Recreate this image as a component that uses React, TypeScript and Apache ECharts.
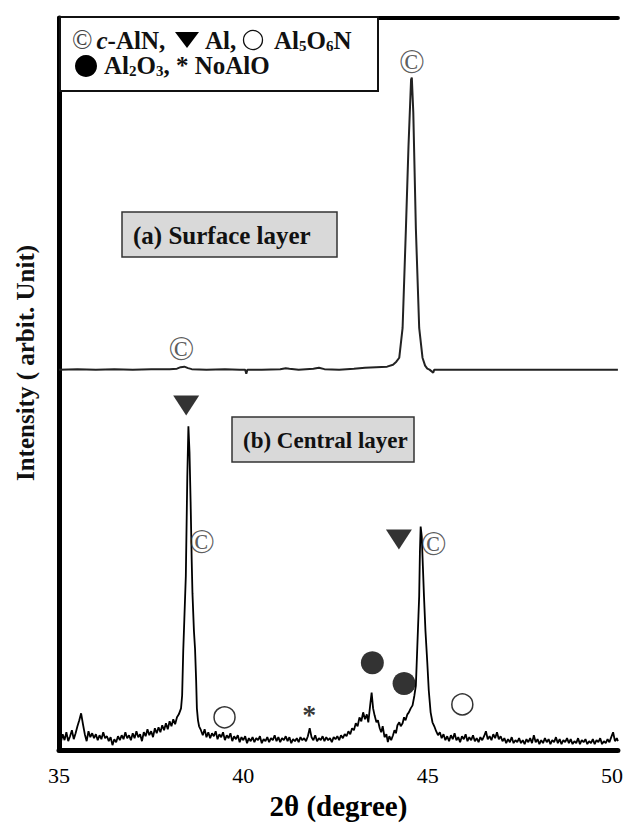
import React, { useEffect, useRef } from "react";
import * as echarts from "echarts";

// 2θ (degree) / intensity (arbitrary units) — central layer (b)
const centralLayer: [number, number][] = [
  [35.0, 12], [35.05, 8], [35.1, 16], [35.15, 10], [35.2, 18], [35.25, 9], [35.3, 14], [35.35, 20], [35.4, 11], [35.45, 17],
  [35.5, 24], [35.55, 30], [35.6, 37], [35.65, 26], [35.7, 16], [35.75, 9], [35.8, 19], [35.85, 13], [35.9, 17], [35.95, 12],
  [36.0, 16], [36.05, 10], [36.1, 15], [36.15, 11], [36.2, 18], [36.25, 12], [36.3, 14], [36.35, 9], [36.4, 13], [36.45, 5],
  [36.5, 11], [36.55, 8], [36.6, 14], [36.65, 10], [36.7, 15], [36.75, 11], [36.8, 18], [36.85, 12], [36.9, 15], [36.95, 10],
  [37.0, 17], [37.05, 12], [37.1, 19], [37.15, 13], [37.2, 16], [37.25, 9], [37.3, 18], [37.35, 14], [37.4, 21], [37.45, 15],
  [37.5, 19], [37.55, 13], [37.6, 22], [37.65, 17], [37.7, 23], [37.75, 18], [37.8, 25], [37.85, 20], [37.9, 27], [37.95, 21],
  [38.0, 29], [38.05, 24], [38.1, 31], [38.15, 26], [38.2, 33], [38.25, 36], [38.31, 42], [38.34, 55], [38.37, 100], [38.4, 132],
  [38.44, 175], [38.48, 275], [38.51, 326], [38.54, 300], [38.57, 250], [38.6, 190], [38.62, 158], [38.66, 120], [38.69, 102], [38.72, 70],
  [38.74, 42], [38.77, 30], [38.8, 24], [38.85, 20], [38.9, 15], [38.95, 21], [39.0, 13], [39.05, 18], [39.1, 12], [39.15, 17],
  [39.2, 14], [39.25, 19], [39.3, 11], [39.35, 16], [39.4, 13], [39.45, 18], [39.5, 10], [39.55, 15], [39.6, 12], [39.65, 17],
  [39.7, 9], [39.75, 14], [39.8, 11], [39.85, 15], [39.9, 8], [39.95, 13], [40.0, 10], [40.05, 14], [40.1, 7], [40.15, 12],
  [40.2, 9], [40.25, 13], [40.3, 8], [40.35, 12], [40.4, 10], [40.45, 14], [40.5, 7], [40.55, 11], [40.6, 9], [40.65, 13],
  [40.7, 8], [40.75, 12], [40.8, 10], [40.85, 15], [40.9, 9], [40.95, 13], [41.0, 8], [41.05, 12], [41.1, 10], [41.15, 14],
  [41.2, 9], [41.25, 13], [41.3, 7], [41.35, 11], [41.4, 9], [41.45, 12], [41.5, 8], [41.55, 13], [41.6, 10], [41.65, 12],
  [41.7, 9], [41.75, 14], [41.8, 22], [41.85, 13], [41.9, 10], [41.95, 15], [42.0, 9], [42.05, 12], [42.1, 10], [42.15, 14],
  [42.2, 9], [42.25, 13], [42.3, 10], [42.35, 12], [42.4, 8], [42.45, 13], [42.5, 11], [42.55, 14], [42.6, 10], [42.65, 15],
  [42.7, 12], [42.75, 16], [42.8, 14], [42.85, 19], [42.9, 16], [42.95, 22], [43.0, 20], [43.05, 27], [43.1, 24], [43.15, 33],
  [43.2, 29], [43.25, 38], [43.3, 31], [43.35, 36], [43.39, 28], [43.44, 45], [43.48, 58], [43.52, 42], [43.56, 35], [43.61, 28],
  [43.65, 30], [43.7, 22], [43.74, 18], [43.78, 24], [43.83, 13], [43.88, 16], [43.92, 8], [43.96, 14], [44.01, 10], [44.06, 15],
  [44.1, 20], [44.14, 17], [44.18, 25], [44.23, 28], [44.27, 24], [44.32, 27], [44.36, 33], [44.4, 30], [44.45, 36], [44.49, 38],
  [44.54, 42], [44.59, 45], [44.64, 55], [44.68, 65], [44.7, 85], [44.72, 105], [44.75, 135], [44.77, 155], [44.79, 200], [44.81, 225],
  [44.84, 215], [44.87, 185], [44.9, 155], [44.94, 120], [44.99, 88], [45.03, 60], [45.08, 38], [45.13, 28], [45.18, 24], [45.23, 19],
  [45.28, 15], [45.33, 18], [45.38, 12], [45.43, 16], [45.48, 10], [45.53, 14], [45.58, 9], [45.63, 15], [45.68, 11], [45.73, 17],
  [45.78, 10], [45.83, 13], [45.88, 8], [45.93, 14], [45.98, 11], [46.03, 16], [46.08, 9], [46.13, 13], [46.18, 10], [46.23, 15],
  [46.28, 9], [46.33, 12], [46.38, 8], [46.43, 13], [46.48, 10], [46.53, 14], [46.58, 19], [46.63, 11], [46.68, 14], [46.73, 10],
  [46.78, 16], [46.83, 12], [46.88, 18], [46.93, 11], [46.98, 14], [47.03, 9], [47.08, 12], [47.13, 7], [47.18, 11], [47.23, 8],
  [47.28, 13], [47.33, 7], [47.38, 10], [47.43, 8], [47.48, 12], [47.53, 7], [47.58, 10], [47.63, 6], [47.68, 11], [47.73, 8],
  [47.78, 12], [47.83, 7], [47.88, 15], [47.93, 8], [47.98, 11], [48.03, 6], [48.08, 10], [48.13, 7], [48.18, 12], [48.23, 8],
  [48.28, 11], [48.33, 6], [48.38, 10], [48.43, 8], [48.48, 13], [48.53, 7], [48.58, 11], [48.63, 6], [48.68, 10], [48.73, 8],
  [48.78, 12], [48.83, 7], [48.88, 11], [48.93, 6], [48.98, 9], [49.03, 7], [49.08, 12], [49.13, 6], [49.18, 10], [49.23, 8],
  [49.28, 11], [49.33, 6], [49.38, 9], [49.43, 7], [49.48, 11], [49.53, 6], [49.58, 10], [49.63, 8], [49.68, 12], [49.73, 6],
  [49.78, 9], [49.83, 7], [49.88, 11], [49.93, 8], [49.98, 13], [50.03, 18], [50.08, 9], [50.13, 12], [50.16, 9],
];

// surface layer (a), relative to its own baseline
const surfaceLayer: [number, number][] = [
  [35.0, 0], [35.5, 0.5], [36.0, 0], [36.5, 0.5], [37.0, 0], [37.5, 0.5], [38.0, 0.5], [38.2, 1], [38.3, 2.5], [38.4, 3],
  [38.5, 1.5], [38.6, 0.5], [39.0, 0], [39.5, 0.5], [39.9, 0], [40.05, 0], [40.08, -4], [40.11, 0], [40.5, 0], [41.0, 0.5],
  [41.15, 1.5], [41.25, 1], [41.5, 0], [41.9, 1], [42.05, 2], [42.2, 0.5], [42.6, 0], [43.0, 1], [43.3, 2], [43.6, 2.5],
  [43.9, 3], [44.06, 5], [44.15, 8], [44.23, 12], [44.32, 42], [44.41, 142], [44.48, 225], [44.55, 292], [44.57, 294], [44.61, 259],
  [44.68, 142], [44.77, 42], [44.86, 12], [44.93, 4], [44.99, 1], [45.05, 0], [45.15, -3], [45.18, 0], [45.5, 0], [46.0, 0],
  [47.0, 0], [48.0, 0], [49.0, 0], [50.16, 0],
];
const SURFACE_OFFSET = 383;

const xTicks = [35, 40, 45, 50];

// phase markers [2θ, height]
const markerCAlN: [number, number][] = [[44.57, 693], [38.32, 404], [38.88, 210], [45.16, 208]];
const markerAl: [number, number][] = [[38.45, 347], [44.22, 212]];
const markerAl5O6N: [number, number][] = [[39.49, 33], [45.94, 46]];
const markerAl2O3: [number, number][] = [[43.5, 88], [44.36, 67]];
const markerNoAlO: [number, number][] = [[41.79, 42]];

const SERIF = "'Liberation Serif', 'Times New Roman', serif";

export default function App() {
  const ref = useRef<HTMLDivElement>(null);
  useEffect(() => {
    if (!ref.current) return;
    const chart = echarts.init(ref.current, undefined, { renderer: "svg" });
    const surface = surfaceLayer.map(([x, y]) => [x, y + SURFACE_OFFSET]);
    const txt = { fontWeight: "bold", fontFamily: SERIF, fill: "#111", lineHeight: 26 };
    const legendRich = {
      b: { ...txt, fontSize: 25 },
      it: { ...txt, fontSize: 25, fontStyle: "italic", padding: [0, 0, 0, 4] },
      sym: { fontSize: 27, fontFamily: SERIF, fill: "#444", lineHeight: 26 },
      sub: { ...txt, fontSize: 15, lineHeight: 14, verticalAlign: "bottom" },
    };
    const legendText = (x: number, y: number, text: string) => ({
      type: "text",
      z: 101,
      x,
      y,
      style: { text, rich: legendRich, verticalAlign: "middle" },
    });
    const option: any = {
      animation: false,
      backgroundColor: "#fff",
      grid: { left: 59, right: 0, top: 18, bottom: 70 },
      xAxis: [
        {
          type: "value",
          min: 35,
          max: 50.16,
          interval: 5,
          position: "bottom",
          axisLine: { show: true, onZero: false, lineStyle: { color: "#000", width: 5 } },
          axisTick: { show: false },
          splitLine: { show: false },
          axisLabel: {
            fontSize: 22,
            color: "#000",
            fontFamily: SERIF,
            margin: 14,
            formatter: (v: number) => (xTicks.includes(v) ? String(v) : ""),
          },
          name: "2θ (degree)",
          nameLocation: "middle",
          nameGap: 36,
          nameTextStyle: { fontSize: 29, fontWeight: "bold", fontFamily: SERIF, color: "#000" },
        },
        {
          type: "value",
          min: 35,
          max: 50.16,
          position: "top",
          axisLine: { show: true, onZero: false, lineStyle: { color: "#000", width: 4 } },
          axisTick: { show: false },
          axisLabel: { show: false },
          splitLine: { show: false },
        },
      ],
      yAxis: {
        type: "value",
        min: 0,
        max: 737,
        axisLine: { show: true, onZero: false, lineStyle: { color: "#000", width: 5 } },
        axisTick: { show: false },
        axisLabel: { show: false },
        splitLine: { show: false },
      },
      series: [
        {
          type: "line",
          name: "Surface layer",
          data: surface,
          symbol: "none",
          lineStyle: { color: "#222", width: 2 },
          z: 2,
        },
        {
          type: "line",
          name: "Central layer",
          data: centralLayer,
          symbol: "none",
          lineStyle: { color: "#000", width: 1.8 },
          z: 2,
        },
        {
          type: "scatter",
          name: "c-AlN",
          data: markerCAlN,
          symbolSize: 1,
          itemStyle: { color: "rgba(0,0,0,0)" },
          label: { show: true, position: "inside", formatter: "©", fontSize: 34, color: "#333", fontFamily: SERIF },
          z: 5,
        },
        {
          type: "scatter",
          name: "Al",
          data: markerAl,
          symbol: "triangle",
          symbolRotate: 180,
          symbolSize: [26, 20],
          itemStyle: { color: "#000" },
          z: 5,
        },
        {
          type: "scatter",
          name: "Al5O6N",
          data: markerAl5O6N,
          symbol: "circle",
          symbolSize: 21,
          itemStyle: { color: "#fff", borderColor: "#000", borderWidth: 1.5 },
          z: 5,
        },
        {
          type: "scatter",
          name: "Al2O3",
          data: markerAl2O3,
          symbol: "circle",
          symbolSize: 23,
          itemStyle: { color: "#000" },
          z: 5,
        },
        {
          type: "scatter",
          name: "NoAlO",
          data: markerNoAlO,
          symbolSize: 1,
          itemStyle: { color: "rgba(0,0,0,0)" },
          label: {
            show: true,
            position: "inside",
            formatter: "*",
            fontSize: 28,
            fontWeight: "bold",
            color: "#000",
            fontFamily: SERIF,
            offset: [0, 6],
          },
          z: 5,
        },
      ],
      graphic: [
        {
          type: "rect",
          z: 100,
          shape: { x: 60, y: 17, width: 318, height: 74 },
          style: { fill: "#fff", stroke: "#111", lineWidth: 2 },
        },
        legendText(72, 40, "{sym|©}{it|c}{b|-AlN,}"),
        {
          type: "polygon",
          z: 101,
          shape: { points: [[175, 32], [199, 32], [187, 48]] },
          style: { fill: "#000" },
        },
        legendText(205, 40, "{b|Al,}"),
        {
          type: "circle",
          z: 101,
          shape: { cx: 253, cy: 40, r: 9.5 },
          style: { fill: "#fff", stroke: "#111", lineWidth: 1.3 },
        },
        legendText(274, 40, "{b|Al}{sub|5}{b|O}{sub|6}{b|N}"),
        {
          type: "circle",
          z: 101,
          shape: { cx: 86, cy: 66, r: 11 },
          style: { fill: "#000" },
        },
        legendText(104, 65, "{b|Al}{sub|2}{b|O}{sub|3}{b|, * NoAlO}"),
        {
          type: "rect",
          z: 100,
          shape: { x: 122, y: 212, width: 215, height: 45 },
          style: { fill: "#d9d9d9", stroke: "#333", lineWidth: 1.5 },
        },
        {
          type: "text",
          z: 101,
          x: 133,
          y: 235,
          style: {
            text: "(a) Surface layer",
            fontSize: 25,
            fontWeight: "bold",
            fontFamily: SERIF,
            fill: "#111",
            verticalAlign: "middle",
          },
        },
        {
          type: "rect",
          z: 100,
          shape: { x: 232, y: 417, width: 182, height: 45 },
          style: { fill: "#d9d9d9", stroke: "#333", lineWidth: 1.5 },
        },
        {
          type: "text",
          z: 101,
          x: 243,
          y: 440,
          style: {
            text: "(b) Central layer",
            fontSize: 23,
            fontWeight: "bold",
            fontFamily: SERIF,
            fill: "#111",
            verticalAlign: "middle",
          },
        },
        {
          type: "text",
          z: 101,
          x: 25,
          y: 363,
          rotation: Math.PI / 2,
          style: {
            text: "Intensity ( arbit. Unit)",
            fontSize: 25,
            fontWeight: "bold",
            fontFamily: SERIF,
            fill: "#111",
            align: "center",
            verticalAlign: "middle",
          },
        },
      ],
    };
    chart.setOption(option);
    return () => chart.dispose();
  }, []);
  return (
    <div
      ref={ref}
      style={{ position: "fixed", left: 0, top: 0, width: 626, height: 825, background: "#fff" }}
    />
  );
}
